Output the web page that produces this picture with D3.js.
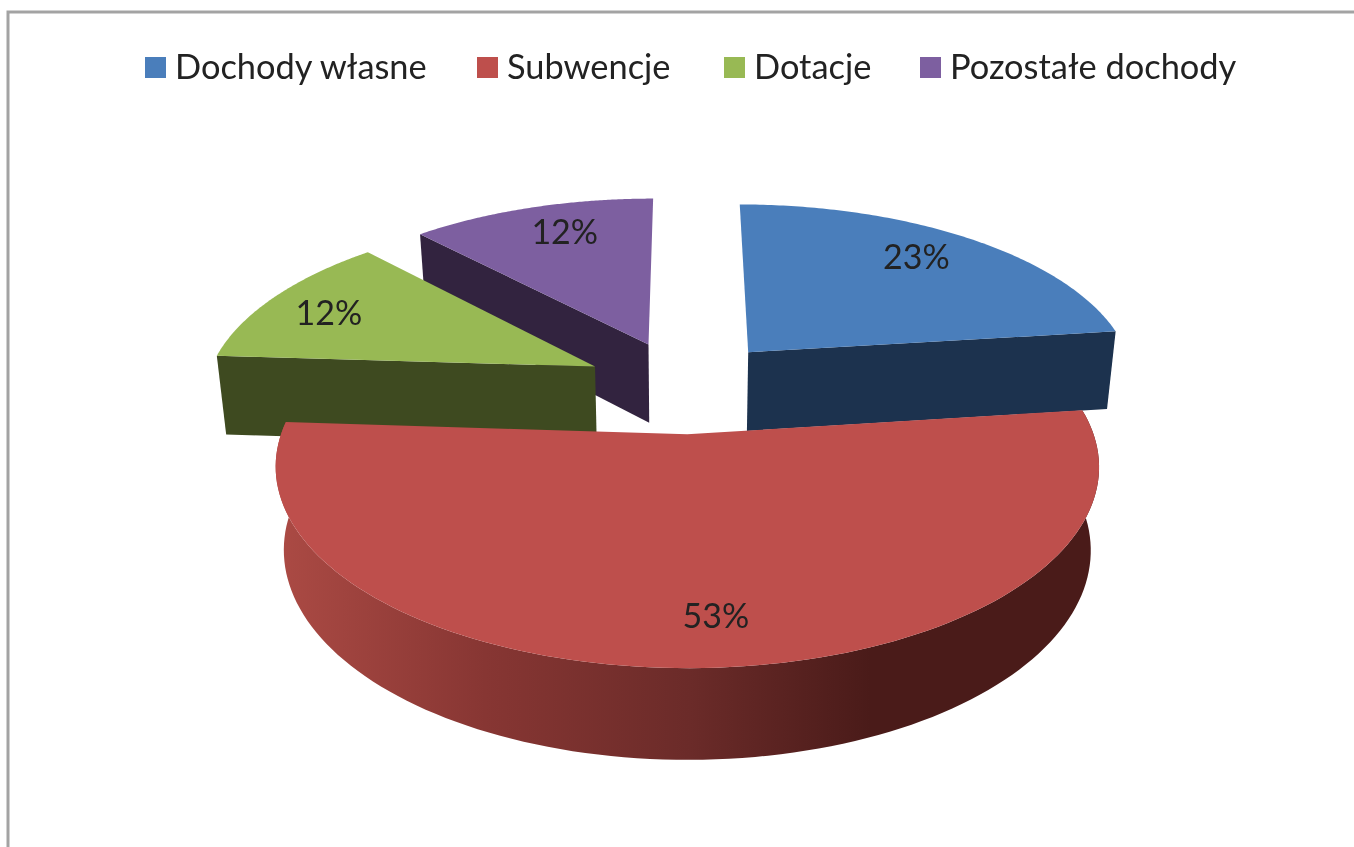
<!DOCTYPE html>
<html lang="pl">
<head>
<meta charset="utf-8">
<title>Struktura dochodów</title>
<script src="https://cdn.jsdelivr.net/npm/d3@7"></script>
<style>
html, body {margin: 0; padding: 0; background: #fff; overflow: hidden;}
svg {filter: blur(0.6px);}
text {font-family: Lato, "Open Sans", sans-serif; fill: #222;}
</style>
</head>
<body>
<svg width="1354" height="847"></svg>
<script>
// dane
var categories = ["Dochody własne", "Subwencje", "Dotacje", "Pozostałe dochody"];
var values = [23, 53, 12, 12];
var topColors = ["#4a7ebb", "#be4f4c", "#98b954", "#7d5fa0"];
var sideColors = ["#1c324e", "#4a1b19", "#3e4a20", "#32233f"];

var width = 1354, height = 847;
var svg = d3.select("svg");

// rzut perspektywiczny plaszczyzny kola
var cx = 684, cy = 386, R = 390, explode = 100;
var persp = 0.0004, tilt = 0.463, depth = 80, narrow = 0.02;

function project(u, v, z) {
	var s = 1 / (1 + persp * v);
	return [cx + u * s * (1 - narrow * z), cy - tilt * v * s + depth * z * (1 + (s - 1) * 0.6)];
}

var pieData = d3.pie().sort(null).value(function(d) { return d; })(values);
var radial = d3.scaleLinear().domain([0, 1]).range([0, R]);
var line = d3.line();

function midAngle(d) { return (d.startAngle + d.endAngle) / 2; }

// punkt kawalka: kat, promien 0-1, wysokosc 0-1
function point(d, angle, r, z) {
	var m = midAngle(d);
	var u = explode * Math.sin(m) + radial(r) * Math.sin(angle);
	var v = explode * Math.cos(m) + radial(r) * Math.cos(angle);
	return project(u, v, z);
}

function arcPoints(d, z) {
	return d3.range(0, 121).map(function(i) {
		return point(d, d.startAngle + (d.endAngle - d.startAngle) * i / 120, 1, z);
	});
}

// gradient boku czerwonego kawalka
var defs = svg.append("defs");
var grad = defs.append("linearGradient")
	.attr("id", "redSide")
	.attr("gradientUnits", "userSpaceOnUse")
	.attr("x1", 280).attr("x2", 1100).attr("y1", 0).attr("y2", 0);
grad.append("stop").attr("offset", "0").attr("stop-color", "#ab4a44");
grad.append("stop").attr("offset", "0.25").attr("stop-color", "#873633");
grad.append("stop").attr("offset", "0.5").attr("stop-color", "#6b2b29");
grad.append("stop").attr("offset", "0.72").attr("stop-color", "#4a1b19");
grad.append("stop").attr("offset", "1").attr("stop-color", "#4a1b19");

// ramka
svg.append("path")
	.attr("d", line([[8, height], [8, 12], [width, 12]]))
	.attr("fill", "none")
	.attr("stroke", "#a3a3a3")
	.attr("stroke-width", 3);

// legenda
var legendX = [145, 477, 724, 920];
var legend = svg.selectAll(".legend")
	.data(categories)
	.enter()
	.append("g")
		.attr("class", "legend")
		.attr("transform", function(d, i) { return "translate(" + legendX[i] + ",57)"; });
legend.append("rect")
	.attr("width", 21).attr("height", 21)
	.attr("fill", function(d, i) { return topColors[i]; });
legend.append("text")
	.attr("x", 30).attr("y", 22)
	.attr("font-size", 34.4)
	.text(function(d) { return d; });

// kolejnosc rysowania: od tylu do przodu
var order = [3, 2, 0, 1];
var slices = svg.selectAll(".slice")
	.data(order.map(function(i) { return pieData[i]; }))
	.enter()
	.append("g")
		.attr("class", "slice");

// sciana ciecia
slices.filter(function(d) { return d.index !== 1; })
	.append("path")
	.attr("d", function(d) {
		var a = d.index === 0 ? d.endAngle : d.startAngle;
		return line([point(d, a, 1, 0), point(d, a, 0, 0), point(d, a, 0, 1), point(d, a, 1, 1)]) + "Z";
	})
	.attr("fill", function(d) { return sideColors[d.index]; });

// sciana zewnetrzna (tylko czerwony kawalek ma ja od przodu)
slices.filter(function(d) { return d.index === 1; })
	.append("path")
	.attr("d", function(d) {
		var upper = arcPoints(d, 0);
		var lower = arcPoints(d, 1).reverse();
		return line(upper.concat(lower)) + "Z";
	})
	.attr("fill", "url(#redSide)");

// wierzch
slices.append("path")
	.attr("d", function(d) {
		return line([point(d, 0, 0, 0)].concat(arcPoints(d, 0))) + "Z";
	})
	.attr("fill", function(d) { return topColors[d.index]; });

// etykiety
var labelR = 0.77;
var labelNudgeX = [-4, 17, -16, 9];
var labelNudgeY = [-5, 10, 1, -4];
svg.selectAll(".label")
	.data(pieData)
	.enter()
	.append("text")
		.attr("class", "label")
		.attr("font-size", 34)
		.attr("text-anchor", "middle")
		.attr("dy", "0.35em")
		.attr("x", function(d) { return point(d, midAngle(d), labelR, 0)[0] + labelNudgeX[d.index]; })
		.attr("y", function(d) { return point(d, midAngle(d), labelR, 0)[1] + labelNudgeY[d.index]; })
		.text(function(d) { return d.value + "%"; });
</script>
</body>
</html>
